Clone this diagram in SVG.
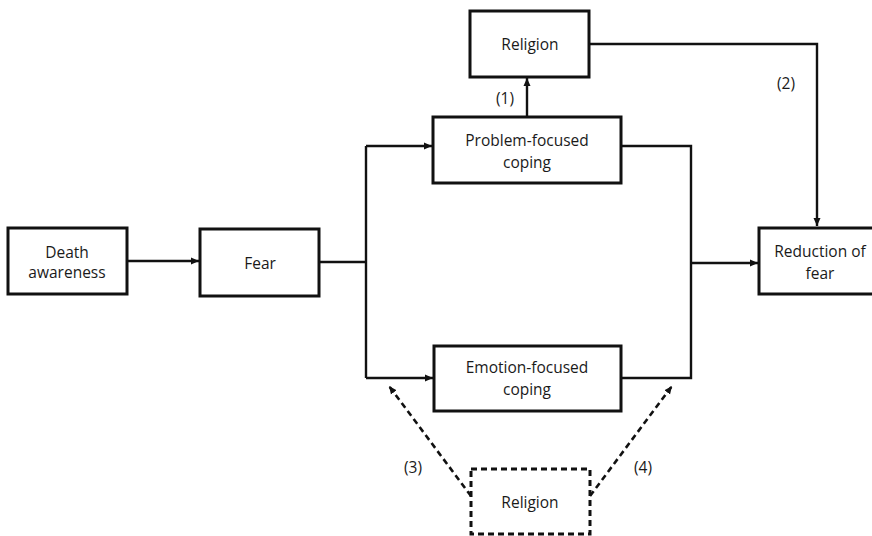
<svg xmlns="http://www.w3.org/2000/svg" width="872" height="536" viewBox="0 0 872 536">
<style>
.box{fill:#fff;stroke:#111;stroke-width:3}
.dbox{fill:#fff;stroke:#111;stroke-width:3;stroke-dasharray:6 4}
.ln{fill:none;stroke:#111;stroke-width:2.4}
.dl{fill:none;stroke:#111;stroke-width:2.6;stroke-dasharray:6 4}
text{font-family:"Open Sans","Noto Sans",sans-serif;font-size:15.5px;fill:#1a1a1a;text-anchor:middle}
</style>
<defs>
<marker id="ah" markerWidth="9" markerHeight="9" refX="8" refY="4.5" orient="auto" markerUnits="userSpaceOnUse">
<path d="M0,1 L8,4.5 L0,8 z" fill="#111"/>
</marker>
</defs>
<rect width="872" height="536" fill="#fff"/>
<g id="connectors">
<path class="ln" d="M127,261 H199" marker-end="url(#ah)"/>
<path class="ln" d="M319,262 H366"/>
<path class="ln" d="M366,146 V378"/>
<path class="ln" d="M366,146 H432" marker-end="url(#ah)"/>
<path class="ln" d="M366,378 H433" marker-end="url(#ah)"/>
<path class="ln" d="M527,117 V78" marker-end="url(#ah)"/>
<path class="ln" d="M589,44 H817 V226" marker-end="url(#ah)"/>
<path class="ln" d="M621,146 H691 V378 H621"/>
<path class="ln" d="M691,263 H758" marker-end="url(#ah)"/>
<path class="dl" d="M471,496 L389,386" marker-end="url(#ah)"/>
<path class="dl" d="M590,496 L672,386" marker-end="url(#ah)"/>
<text x="505" y="104">(1)</text>
<text x="786" y="89">(2)</text>
<text x="413" y="473">(3)</text>
<text x="643" y="473">(4)</text>
</g>
<g id="death"><rect class="box" x="8" y="228" width="119" height="66"/><text x="67" y="258">Death</text><text x="67" y="278">awareness</text></g>
<g id="fear"><rect class="box" x="200" y="229" width="119" height="67"/><text x="260" y="269">Fear</text></g>
<g id="religion1"><rect class="box" x="470" y="11" width="119" height="66"/><text x="530" y="50">Religion</text></g>
<g id="problem"><rect class="box" x="433" y="117" width="188" height="66"/><text x="527" y="146">Problem-focused</text><text x="527" y="168">coping</text></g>
<g id="emotion"><rect class="box" x="434" y="346" width="187" height="65"/><text x="527" y="373">Emotion-focused</text><text x="527" y="395">coping</text></g>
<g id="reduction"><rect class="box" x="759" y="228" width="122" height="66"/><text x="820" y="257">Reduction of</text><text x="820" y="279">fear</text></g>
<g id="religion2"><rect class="dbox" x="471" y="469" width="119" height="65"/><text x="530" y="508">Religion</text></g>
</svg>
